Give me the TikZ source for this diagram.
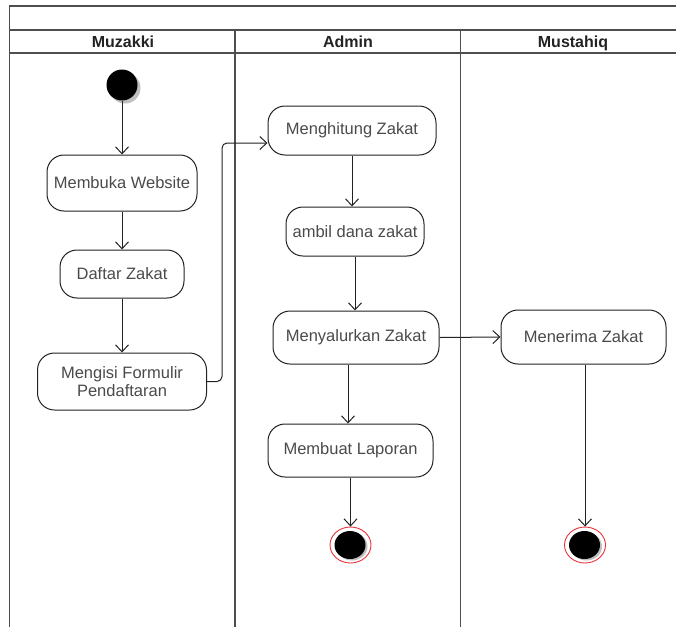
\documentclass[tikz,border=0pt]{standalone}
\usepackage{fontspec}
\setmainfont{Liberation Sans}
\usetikzlibrary{arrows.meta,shapes.geometric}
\definecolor{txt}{HTML}{4A4A4A}
\definecolor{ln}{HTML}{222222}
\definecolor{endred}{HTML}{E8323C}
\begin{document}
\begin{tikzpicture}[x=1pt,y=1pt,
  act/.style={draw=ln,line width=1pt,rounded corners=17pt,align=center,
    text=txt,font=\fontsize{16.5}{18}\selectfont,inner sep=0pt},
  flow/.style={draw=ln,line width=1pt,-{Straight Barb[length=7pt,width=13pt,line width=1pt]}},
  lane/.style={draw=ln!80!white,line width=1.2pt},
  hdr/.style={font=\bfseries\fontsize{16}{18}\selectfont,text=ln,anchor=base}]
\useasboundingbox (0,0) rectangle (676,-627);
% frame
\draw[lane] (9.5,-627) -- (9.5,-6) -- (676,-6);
\draw[lane] (9.5,-30) -- (676,-30);
\draw[lane] (9.5,-53) -- (676,-53);
\draw[lane] (235,-30) -- (235,-627);
\draw[lane] (460.5,-30) -- (460.5,-627);
\node[hdr] (h1) at (123,-47.5) {Muzakki};
\node[hdr] (h2) at (348,-47.5) {Admin};
\node[hdr] (h3) at (573,-47.5) {Mustahiq};
% start
\fill[black!25] (125,-88) circle (15.5);
\node[circle,fill=black,minimum size=31pt,inner sep=0pt] (st) at (122,-85) {};
% activities
\node[act,minimum width=150pt,minimum height=56pt] (mw) at (122,-183) {Membuka Website};
\node[act,minimum width=124pt,minimum height=48pt] (dz) at (122,-274) {Daftar Zakat};
\node[act,minimum width=169pt,minimum height=57pt] (mf) at (122,-381.5) {Mengisi Formulir\\Pendaftaran};
\node[act,minimum width=168pt,minimum height=49pt] (mh) at (352,-130.5) {Menghitung Zakat};
\node[act,minimum width=138pt,minimum height=49pt] (ad) at (355,-231.5) {ambil dana zakat};
\node[act,minimum width=166pt,minimum height=53pt] (mz) at (356,-337.5) {Menyalurkan Zakat};
\node[act,minimum width=165pt,minimum height=53pt] (ml) at (350.5,-450.5) {Membuat Laporan};
\node[act,minimum width=165pt,minimum height=54pt] (mr) at (583.5,-337) {Menerima Zakat};
% end nodes
\node[ellipse,draw=endred,line width=0.9pt,minimum width=41pt,minimum height=36pt,inner sep=0pt] (e1) at (350.5,-545) {};
\fill[black!25] (352,-546.5) ellipse (15.5 and 14);
\fill[black] (350,-545) ellipse (15.5 and 14);
\node[ellipse,draw=endred,line width=0.9pt,minimum width=41pt,minimum height=36pt,inner sep=0pt] (e2) at (585,-545) {};
\fill[black!25] (586.5,-546.5) ellipse (15.5 and 14);
\fill[black] (584.5,-545) ellipse (15.5 and 14);
% flows
\draw[flow] (st) -- (mw);
\draw[flow] (mw) -- (dz);
\draw[flow] (dz) -- (mf);
\draw[flow,rounded corners=5pt] (mf.east) -- ++(15,0) |- ([yshift=-12.5pt]mh.west);
\draw[flow] (mh.south) -- (mh.south |- ad.north);
\draw[flow] (ad.south) -- (ad.south |- mz.north);
\draw[flow] ([xshift=-8pt]mz.south) -- ([xshift=-8pt]mz.south |- ml.north);
\draw[flow] (ml.south) -- (ml.south |- e1.north);
\draw[flow] (mz.east) -- (mr.west);
\draw[flow] ([xshift=1.5pt]mr.south) -- ([xshift=1.5pt]mr.south |- e2.north);
\end{tikzpicture}
\end{document}
